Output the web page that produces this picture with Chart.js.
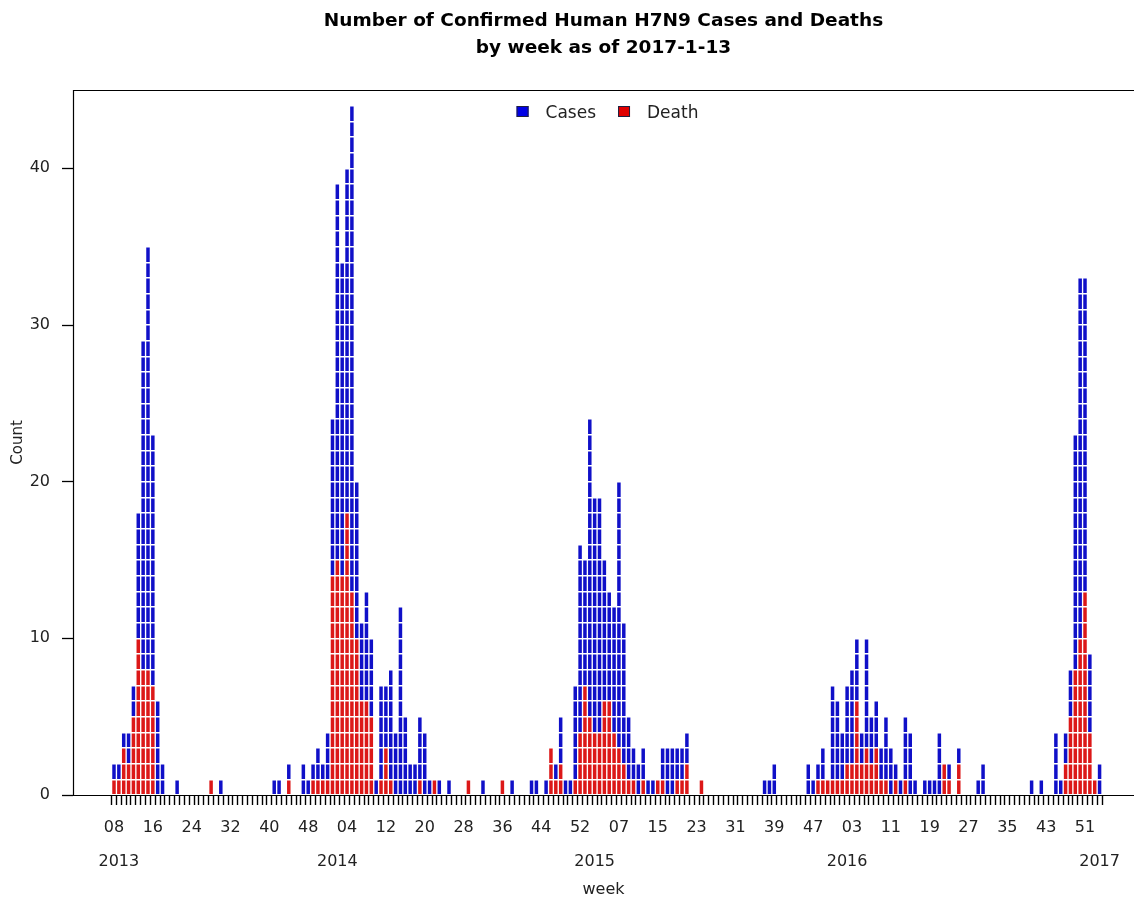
<!DOCTYPE html>
<html>
<head>
<meta charset="utf-8">
<title>H7N9 cases and deaths by week</title>
<script src="https://cdn.jsdelivr.net/npm/chart.js@4.4.1/dist/chart.umd.min.js"></script>
<style>
  html, body { margin: 0; padding: 0; background: #fff; }
  #wrap { width: 1134px; height: 901px; }
</style>
</head>
<body>
<div id="wrap"><canvas id="chart" width="1134" height="901"></canvas></div>
<script>
// ===== DATA =====
const YEARS      = [2013, 2014, 2015, 2016, 2017];
const FIRST_WEEK = [8, 1, 1, 1, 1];
const LAST_WEEK  = [52, 53, 52, 52, 2];

// weekly counts, one entry per week from FIRST_WEEK to LAST_WEEK
const cases2013  = [2,2,4,4,7,18,29,35,23,6, 2,0,0,1,0,0,0,0,0,0, 1,0,1,0,0,0,0,0,0,0, 0,0,0,1,1,0,2,0,0,2, 1,2,3,2,4];
const deaths2013 = [1,1,3,2,5,10,8,8,7,0, 0,0,0,0,0,0,0,0,0,0, 1,0,0,0,0,0,0,0,0,0, 0,0,0,0,0,0,1,0,0,0, 0,1,1,1,1];
const cases2014  = [24,39,34,40,44,20,11,13,10,1, 7,7,8,4,12,5,2,2,5,4, 1,1,1,0,1,0,0,0,1,0, 0,1,0,0,0,1,0,1,0,0, 0,1,1,0,1,3,2,5,1,1, 7,16,15];
const deaths2014 = [14,15,14,18,13,10,6,6,5,0, 1,3,1,0,0,0,0,0,1,0, 0,1,0,0,0,0,0,0,1,0, 0,0,0,0,0,1,0,0,0,0, 0,0,0,0,0,3,1,2,0,0, 1,4,7];
const cases2015  = [24,19,19,15,13,12,20,11,5,3, 2,3,1,1,1,3,3,3,3,3, 4,0,0,1,0,0,0,0,0,0, 0,0,0,0,0,0,1,1,2,0, 0,0,0,0,0,2,1,2,3,1, 7,6];
const deaths2015 = [5,4,4,6,6,4,3,2,1,1, 0,1,0,0,1,1,0,0,1,1, 2,0,0,1,0,0,0,0,0,0, 0,0,0,0,0,0,0,0,0,0, 0,0,0,0,0,0,0,1,1,1, 1,1];
const cases2016  = [4,7,8,10,4,10,5,6,3,5, 3,2,1,5,4,1,0,1,1,1, 4,2,2,0,3,0,0,0,1,2, 0,0,0,0,0,0,0,0,0,1, 0,1,0,0,4,1,4,8,23,33, 33,9];
const deaths2016 = [1,2,2,6,2,3,2,3,1,1, 0,1,0,1,0,0,0,0,0,0, 0,2,1,0,2,0,0,0,0,0, 0,0,0,0,0,0,0,0,0,0, 0,0,0,0,0,0,2,5,8,10, 13,4];
const cases2017  = [1,2];
const deaths2017 = [1,0];

const seriesNames  = ["Cases", "Death"];
const weekTickLabels = ["08","16","24","32","40","48","04","12","20","28","36","44","52",
                        "07","15","23","31","39","47","03","11","19","27","35","43","51"];
const yearTickLabels = ["2013","2014","2015","2016","2017"];
const YEAR_LABEL_WEEK = [9, 2, 2, 2, 2];
const yTicks = [0, 10, 20, 30, 40];

const TITLE = ["Number of Confirmed Human H7N9 Cases and Deaths", "by week as of 2017-1-13"];

// ===== STYLE =====
const FONT = "'DejaVu Sans', sans-serif";
const BLUE = "#1010c8";
const RED  = "#dc1818";
const LEGEND_FILL = ["#0000e6", "#e00000"];

// ===== BUILD =====
const weeks = [];
YEARS.forEach((y, k) => {
  for (let w = FIRST_WEEK[k]; w <= LAST_WEEK[k]; w++) weeks.push({ year: y, week: w });
});
const cases  = [].concat(cases2013, cases2014, cases2015, cases2016, cases2017);
const deaths = [].concat(deaths2013, deaths2014, deaths2015, deaths2016, deaths2017);
if (cases.length !== weeks.length || deaths.length !== weeks.length) console.error("length mismatch");

const deathPts = [], restPts = [];
weeks.forEach((w, i) => {
  if (deaths[i] > 0) deathPts.push({ x: i, y: deaths[i] });
  if (cases[i] - deaths[i] > 0) restPts.push({ x: i, y: cases[i] - deaths[i] });
});

const yearAt = {};
weeks.forEach((w, i) => {
  const k = YEARS.indexOf(w.year);
  if (w.week === YEAR_LABEL_WEEK[k]) yearAt[i] = yearTickLabels[k];
});

function xLabel(v){
  const i = Math.round(v);
  const wk = (i % 8 === 0 && weekTickLabels[i / 8]) ? weekTickLabels[i / 8] : "";
  if (yearAt[i]) return [wk, yearAt[i]];
  return wk;
}

// x range chosen so week 0 lands at the first bar of the plot
const X_MIN = -8.445, X_MAX = 210.09;

// frame: left + top + baseline
const framePlugin = {
  id: "frame",
  afterDraw(chart){
    const { ctx, chartArea: a } = chart;
    const y0 = Math.round(chart.scales.y.getPixelForValue(0)) + 0.5;
    ctx.save();
    ctx.strokeStyle = "#000";
    ctx.lineWidth = 1.2;
    ctx.beginPath();
    ctx.moveTo(a.left + 0.5, y0);
    ctx.lineTo(a.left + 0.5, a.top + 0.5);
    ctx.lineTo(a.right, a.top + 0.5);
    ctx.moveTo(a.left, y0);
    ctx.lineTo(a.right, y0);
    ctx.stroke();
    ctx.restore();
  }
};

// legend inside the plot, top centre
const legendPlugin = {
  id: "innerLegend",
  afterDraw(chart){
    const { ctx, chartArea: a } = chart;
    ctx.save();
    ctx.font = "17px " + FONT;
    ctx.textBaseline = "middle";
    const box = 12, gapTxt = 29, gapItem = 22;
    const widths = seriesNames.map(t => ctx.measureText(t).width);
    const total = widths.reduce((s, w) => s + gapTxt + w, 0) + gapItem * (seriesNames.length - 1);
    let x = (a.left + a.right) / 2 + 4 - total / 2;
    const y = 112;
    seriesNames.forEach((t, i) => {
      ctx.fillStyle = LEGEND_FILL[i];
      ctx.fillRect(x, y - 6, box, box - 1);
      ctx.strokeStyle = "#202040";
      ctx.lineWidth = 1;
      ctx.strokeRect(x + 0.5, y - 5.5, box - 1, box - 2);
      ctx.fillStyle = "#222";
      ctx.fillText(t, x + gapTxt, y + 1.5);
      x += gapTxt + widths[i] + gapItem;
    });
    ctx.restore();
  }
};

Chart.defaults.font.family = FONT;
Chart.defaults.color = "#222";

new Chart(document.getElementById("chart"), {
  type: "bar",
  data: {
    datasets: [
      { label: seriesNames[1], data: deathPts, backgroundColor: RED,
        barPercentage: 0.72, categoryPercentage: 1, borderWidth: 0 },
      { label: seriesNames[0], data: restPts, backgroundColor: BLUE,
        barPercentage: 0.72, categoryPercentage: 1, borderWidth: 0 }
    ]
  },
  options: {
    responsive: false,
    animation: false,
    devicePixelRatio: 1,
    layout: { padding: 0 },
    plugins: {
      legend: { display: false },
      tooltip: { enabled: false },
      title: {
        display: true, text: TITLE, fullSize: false, color: "#000",
        font: { size: 18.5, weight: "bold", lineHeight: "27px" },
        padding: { top: 7.5, bottom: 28.5 }
      }
    },
    scales: {
      x: {
        type: "linear", min: X_MIN, max: X_MAX, bounds: "data", stacked: true, offset: false,
        afterBuildTicks: s => { s.ticks = weeks.map((w, i) => ({ value: i })); },
        afterFit: s => { s.height = 106; },
        grid: { drawOnChartArea: false, drawTicks: true, tickLength: 10, tickColor: "#000", tickWidth: 1.4 },
        border: { display: false },
        ticks: {
          autoSkip: false, maxRotation: 0, minRotation: 0, padding: 6, color: "#222",
          font: { size: 16, lineHeight: "34px" },
          callback: v => xLabel(v)
        },
        title: { display: true, text: "week", color: "#222", font: { size: 16 }, padding: { top: 0, bottom: 2 } }
      },
      y: {
        type: "linear", min: 0, max: 45, stacked: true, position: "left",
        afterBuildTicks: s => { s.ticks = yTicks.map(v => ({ value: v })); },
        afterFit: s => { s.width = 73; },
        grid: { drawOnChartArea: false, drawTicks: true, tickLength: 11, tickColor: "#000", tickWidth: 1.3 },
        border: { display: false },
        ticks: { padding: 12, color: "#222", font: { size: 16 } },
        title: { display: true, text: "Count", color: "#222", font: { size: 15 }, padding: { top: 9, bottom: 0 } }
      },
      // white separators between unit blocks, drawn over the bars
      blocks: {
        type: "linear", min: 0, max: 45, position: "left", display: true,
        afterFit: s => { s.width = 0; },
        grid: { drawOnChartArea: true, drawTicks: false, color: "#fff", lineWidth: 1.4, z: 1 },
        border: { display: false },
        ticks: { display: false, stepSize: 1, maxTicksLimit: 100 }
      }
    }
  },
  plugins: [framePlugin, legendPlugin]
});
</script>
</body>
</html>
